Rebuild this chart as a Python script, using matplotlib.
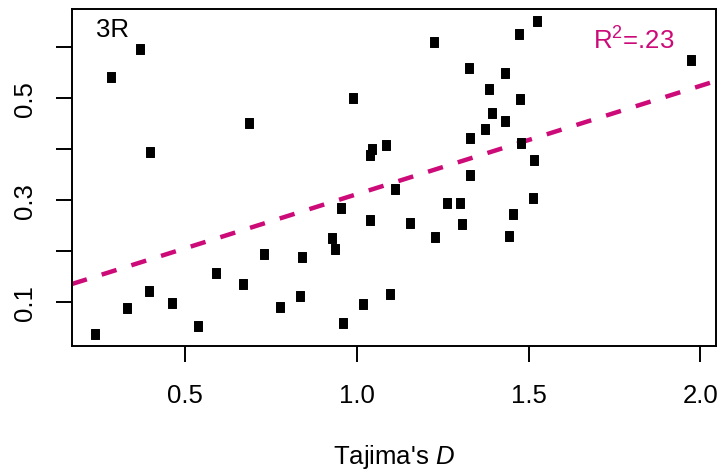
import matplotlib
matplotlib.use("Agg")
import matplotlib.pyplot as plt
from matplotlib.path import Path
import numpy as np

# ---- data ----
tajima_d = [0.238, 0.285, 0.369, 0.398, 0.333, 0.396, 0.462, 0.539, 0.591, 0.670,
            0.686, 0.729, 0.778, 0.835, 0.842, 0.928, 0.937, 0.953, 0.961, 0.989,
            1.017, 1.040, 1.039, 1.045, 1.086, 1.096, 1.112, 1.156, 1.224, 1.228,
            1.264, 1.300, 1.305, 1.326, 1.329, 1.330, 1.372, 1.384, 1.395, 1.432,
            1.432, 1.443, 1.456, 1.473, 1.476, 1.479, 1.512, 1.515, 1.524, 1.974]
y_values = [0.038, 0.542, 0.598, 0.395, 0.089, 0.123, 0.098, 0.054, 0.157, 0.136,
            0.451, 0.195, 0.090, 0.113, 0.189, 0.226, 0.204, 0.285, 0.060, 0.501,
            0.097, 0.261, 0.389, 0.401, 0.408, 0.116, 0.322, 0.255, 0.611, 0.228,
            0.295, 0.295, 0.254, 0.559, 0.349, 0.422, 0.440, 0.518, 0.472, 0.549,
            0.456, 0.230, 0.273, 0.626, 0.498, 0.412, 0.305, 0.380, 0.652, 0.575]
fit_intercept = 0.0995
fit_slope = 0.2126
x_ticks = [0.5, 1.0, 1.5, 2.0]
x_tick_labels = ["0.5", "1.0", "1.5", "2.0"]
y_ticks = [0.1, 0.2, 0.3, 0.4, 0.5, 0.6]
y_tick_labels = ["0.1", "", "0.3", "", "0.5", ""]
panel_label = "3R"
r2_label = r"R$^2$=.23"
x_label = r"Tajima's $\mathit{D}$"

PINK = "#CC0A78"
FS = 18.5

plt.rcParams["font.family"] = ["Liberation Sans", "DejaVu Sans"]
plt.rcParams["mathtext.fontset"] = "custom"
plt.rcParams["mathtext.rm"] = "Liberation Sans"
plt.rcParams["mathtext.it"] = "Liberation Sans:italic"
plt.rcParams["mathtext.bf"] = "Liberation Sans:bold"

W, H = 718, 477
fig = plt.figure(figsize=(W / 100, H / 100), dpi=100)
L, R, T, B = 72, 716, 9.5, 347
ax = fig.add_axes([L / W, (H - B) / H, (R - L) / W, (B - T) / H])

ax.set_xlim(0.1715, 2.0456)
ax.set_ylim(0.0143, 0.6765)

rect = Path([(-0.39, -0.5), (0.39, -0.5), (0.39, 0.5), (-0.39, 0.5), (-0.39, -0.5)],
            [Path.MOVETO, Path.LINETO, Path.LINETO, Path.LINETO, Path.CLOSEPOLY])
ax.plot(tajima_d, y_values, linestyle="none", marker=rect, markersize=6.6,
        markerfacecolor="black", markeredgecolor="black", markeredgewidth=0.7,
        zorder=3)

line = ax.axline((0.0, fit_intercept), slope=fit_slope, color=PINK, linewidth=3.2,
                 zorder=2)
line.set_dashes((3.5, 3.5))
line.set_dash_capstyle("butt")

for s in ax.spines.values():
    s.set_linewidth(1.4)
ax.set_xticks(x_ticks)
ax.set_xticklabels(x_tick_labels)
ax.set_yticks(y_ticks)
ax.set_yticklabels(y_tick_labels, rotation=90, va="center")
ax.tick_params(axis="both", length=11.5, width=1.4, labelsize=FS, direction="out")
ax.tick_params(axis="x", pad=15)
ax.tick_params(axis="y", pad=14)

ax.text((96 - L) / (R - L), (B - 37.3) / (B - T), panel_label, transform=ax.transAxes,
        fontsize=FS, ha="left", va="baseline")
ax.text((674 - L) / (R - L), (B - 50) / (B - T), r2_label, transform=ax.transAxes,
        fontsize=FS, ha="right", va="baseline", color=PINK)

ax.set_xlabel(x_label, fontsize=FS, labelpad=25)

fig.savefig("out.png", dpi=100)
